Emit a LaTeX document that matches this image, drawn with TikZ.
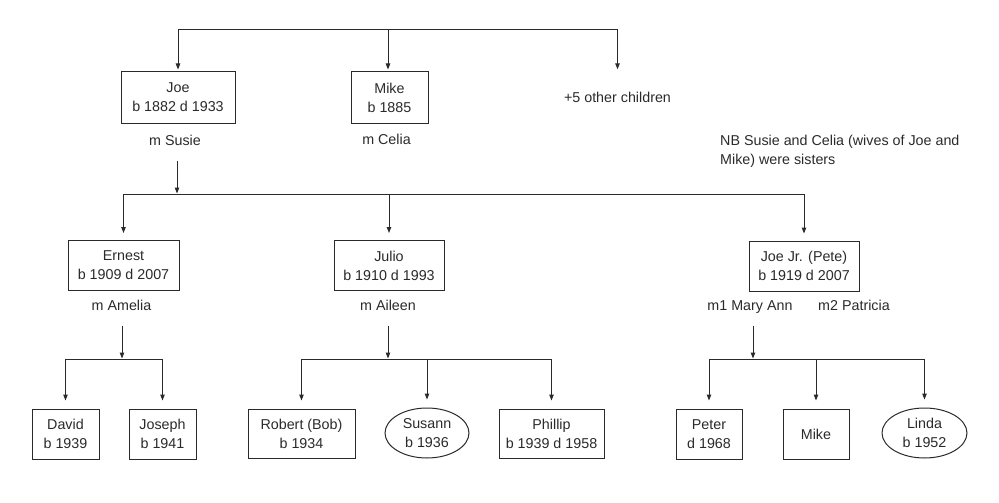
\documentclass[tikz,border=0pt]{standalone}
\usepackage{fontspec}
\setmainfont{Liberation Sans}
\usetikzlibrary{arrows.meta,shapes,positioning,calc}
\definecolor{inkgrey}{HTML}{2A2A2A}

\begin{document}
\begin{tikzpicture}[x=1pt, y=-1pt,
    every node/.style={font=\fontsize{14.3}{19}\selectfont, text=inkgrey},
    person/.style={rectangle, draw=inkgrey, line width=1pt, minimum height=50pt, align=center, inner sep=0pt},
    daughter/.style={ellipse, draw=inkgrey, line width=1pt, minimum width=84pt, minimum height=50pt, align=center, inner sep=0pt},
    spouse/.style={inner sep=2pt, text height=10pt, text depth=3pt},
    link/.style={draw=inkgrey, line width=1pt, -{Triangle[length=6pt,width=4.5pt]}}]
      \useasboundingbox (0,0) rectangle (999,503);

      % FIRST GENERATION
      \coordinate (top) at (388,29.5);
      \node[person, minimum width=114pt, minimum height=51pt] (joe) at (178,97.5) {Joe\\b 1882 d 1933};
      \node[person, minimum width=77pt, minimum height=51pt] (mike) at (389.5,97.5) {Mike\\b 1885};
      \node[minimum height=51pt] (others) at (617.5,97) {+5 other children};
      \draw[link, shorten >=2pt] (top) -| (joe.north);
      \draw[link, shorten >=2pt] (top) -- (top |- mike.north);
      \draw[link, shorten >=2pt] (top) -| (others.north);
      \node[spouse] (susie) at (175,142) {m Susie};
      \node[spouse] (celia) at (386.5,141) {m Celia};
      \node[inner sep=0pt, anchor=west, align=left] (note) at (720,151.5) {NB Susie and Celia (wives of Joe and\\Mike) were sisters};

      % SECOND GENERATION
      \coordinate (fork2) at (177,194.5);
      \draw[link, shorten <=10pt, shorten >=1pt] (susie.south -| fork2) -- (fork2);
      \node[person, minimum width=111pt] (ernest) at (123.5,265.5) {Ernest\\b 1909 d 2007};
      \node[person, minimum width=110pt] (julio) at (389,265.5) {Julio\\b 1910 d 1993};
      \node[person, minimum width=110pt] (joejr) at (804,266) {Joe Jr. (Pete)\\b 1919 d 2007};
      \foreach \kid in {ernest,julio,joejr} {
        \draw[link, shorten >=7pt] (fork2) -| (\kid.north);
      }
      \node[spouse] (amelia) at (121.5,307) {m Amelia};
      \node[spouse] (aileen) at (388,307) {m Aileen};
      \node[spouse] (maryann) at (750,307) {m1 Mary Ann};
      \node[spouse] (patricia) at (854,307) {m2 Patricia};

      % THIRD GENERATION
      \coordinate (forkA) at (122,359.5);
      \coordinate (forkB) at (388,359.5);
      \coordinate (forkC) at (753,359.5);
      \draw[link, shorten <=10pt, shorten >=1pt] (amelia.south -| forkA) -- (forkA);
      \draw[link, shorten <=10pt, shorten >=1pt] (aileen.south -| forkB) -- (forkB);
      \draw[link, shorten <=10pt, shorten >=1pt] (maryann.south -| forkC) -- (forkC);

      \node[person, minimum width=67pt] (david) at (65.5,434) {David\\b 1939};
      \node[person, minimum width=67pt] (joseph) at (162.5,434) {Joseph\\b 1941};
      \node[person, minimum width=107pt, minimum height=49pt] (robert) at (301.5,433.5) {Robert (Bob)\\b 1934};
      \node[daughter] (susann) at (427,433) {Susann\\b 1936};
      \node[person, minimum width=105pt, minimum height=49pt] (phillip) at (551.5,433.5) {Phillip\\b 1939 d 1958};
      \node[person, minimum width=66pt] (peter) at (709,434) {Peter\\d 1968};
      \node[person, minimum width=66pt] (mikeb) at (816,434) {Mike};
      \node[daughter, minimum width=85pt] (linda) at (924.5,433) {Linda\\b 1952};

      \foreach \kid in {david,joseph} {
        \draw[link, shorten >=8pt] (forkA) -| (\kid.north);
      }
      \foreach \kid in {robert,susann,phillip} {
        \draw[link, shorten >=8pt] (forkB) -| (\kid.north);
      }
      \foreach \kid in {peter,mikeb,linda} {
        \draw[link, shorten >=8pt] (forkC) -| (\kid.north);
      }
    \end{tikzpicture}
\end{document}
